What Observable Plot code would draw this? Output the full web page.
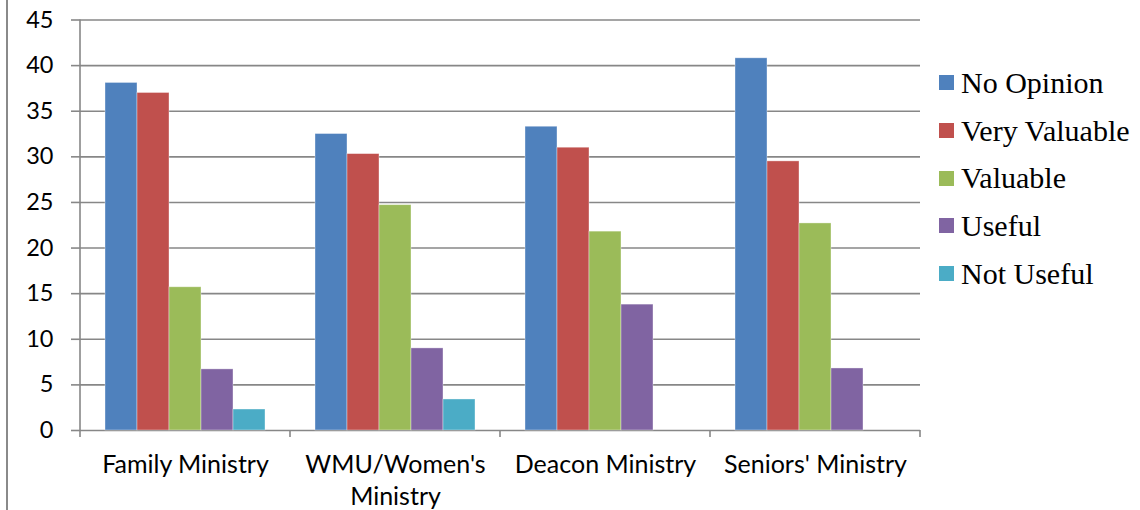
<!DOCTYPE html>
<html>
<head>
<meta charset="utf-8">
<script src="https://cdn.jsdelivr.net/npm/d3@7"></script>
<script src="https://cdn.jsdelivr.net/npm/@observablehq/plot@0.6"></script>
<style>
  html, body { margin: 0; padding: 0; background: #fff; }
  #wrap { position: relative; width: 1140px; height: 510px; overflow: hidden; }
  #border { position: absolute; left: 6px; top: 0; width: 2px; height: 510px; background: #8a8a8a; }
  #legend { position: absolute; left: 939px; top: 59px; font-family: "Liberation Serif", "Times New Roman", serif; font-size: 30px; color: #000; }
  #legend .row { height: 47.7px; display: flex; align-items: center; white-space: nowrap; }
  #legend .sw { width: 15px; height: 15px; margin-right: 7px; flex: none; }
</style>
</head>
<body>
<div id="wrap"><div id="border"></div><div id="legend"></div></div>
<script>
const categories = ["Family Ministry", "WMU/Women's Ministry", "Deacon Ministry", "Seniors' Ministry"];
const categoryLabels = ["Family Ministry", "WMU/Women's\nMinistry", "Deacon Ministry", "Seniors' Ministry"];
const series = ["No Opinion", "Very Valuable", "Valuable", "Useful", "Not Useful"];
const colors = ["#4F81BD", "#C0504D", "#9BBB59", "#8064A2", "#4BACC6"];
const noOpinion    = [38.1, 32.5, 33.3, 40.8];
const veryValuable = [37.0, 30.3, 31.0, 29.5];
const valuable     = [15.7, 24.7, 21.8, 22.7];
const useful       = [6.7, 9.0, 13.8, 6.8];
const notUseful    = [2.3, 3.4, 0, 0];
const yTicks = [0, 5, 10, 15, 20, 25, 30, 35, 40, 45];

const seriesValues = [noOpinion, veryValuable, valuable, useful, notUseful];
const data = [];
categories.forEach((c, i) => series.forEach((s, j) => data.push({category: c, series: s, value: seriesValues[j][i]})));
const labelData = categories.map((c, i) => ({category: c, label: categoryLabels[i]}));

const gridColor = "#878787";
const font = "Lato, 'Open Sans', sans-serif";

const plot = Plot.plot({
  width: 1140,
  height: 510,
  marginLeft: 79,
  marginRight: 220,
  marginTop: 19.5,
  marginBottom: 80,
  style: {fontFamily: font, background: "transparent", overflow: "visible"},
  fx: {domain: categories, padding: 0, axis: null},
  x: {domain: series, paddingInner: 0, paddingOuter: 0.734, axis: null},
  y: {domain: [0, 45], axis: null},
  color: {domain: series, range: colors},
  marks: [
    Plot.gridY(yTicks, {stroke: gridColor, strokeOpacity: 1, strokeWidth: 1.6}),
    Plot.axisY(yTicks, {tickSize: 9, tickPadding: 18, stroke: gridColor, strokeWidth: 1.6, fill: "#000", fontSize: 23.5, label: null}),
    Plot.barY(data.filter(d => d.value > 0), {fx: "category", x: "series", y: "value", fill: "series", stroke: "#fff", strokeOpacity: 0.45, strokeWidth: 0.8}),
    Plot.text(labelData, {fx: "category", text: "label", frameAnchor: "bottom", lineAnchor: "top", dy: 20, fontSize: 25, lineHeight: 1.27, fill: "#000"})
  ]
});

// axis line and category boundary ticks, positioned with the library's scales
const fx = plot.scale("fx");
const y = plot.scale("y");
const svg = d3.select(plot);
const y0 = y.apply(0), yTop = y.apply(45);
const edges = categories.map(c => fx.apply(c));
edges.push(fx.apply(categories[categories.length - 1]) + fx.bandwidth);
const g = svg.append("g").attr("stroke", gridColor).attr("stroke-width", 1.6);
edges.forEach((x, i) => {
  g.append("line").attr("x1", x).attr("x2", x).attr("y1", i === 0 ? yTop : y0).attr("y2", y0 + 7);
});

const wrap = document.getElementById("wrap");
plot.style.position = "absolute";
plot.style.left = "0";
plot.style.top = "0";
wrap.insertBefore(plot, wrap.firstChild);

const legend = d3.select("#legend");
series.forEach((s, i) => {
  const row = legend.append("div").attr("class", "row");
  row.append("div").attr("class", "sw").style("background", colors[i]);
  row.append("span").text(s);
});
</script>
</body>
</html>
